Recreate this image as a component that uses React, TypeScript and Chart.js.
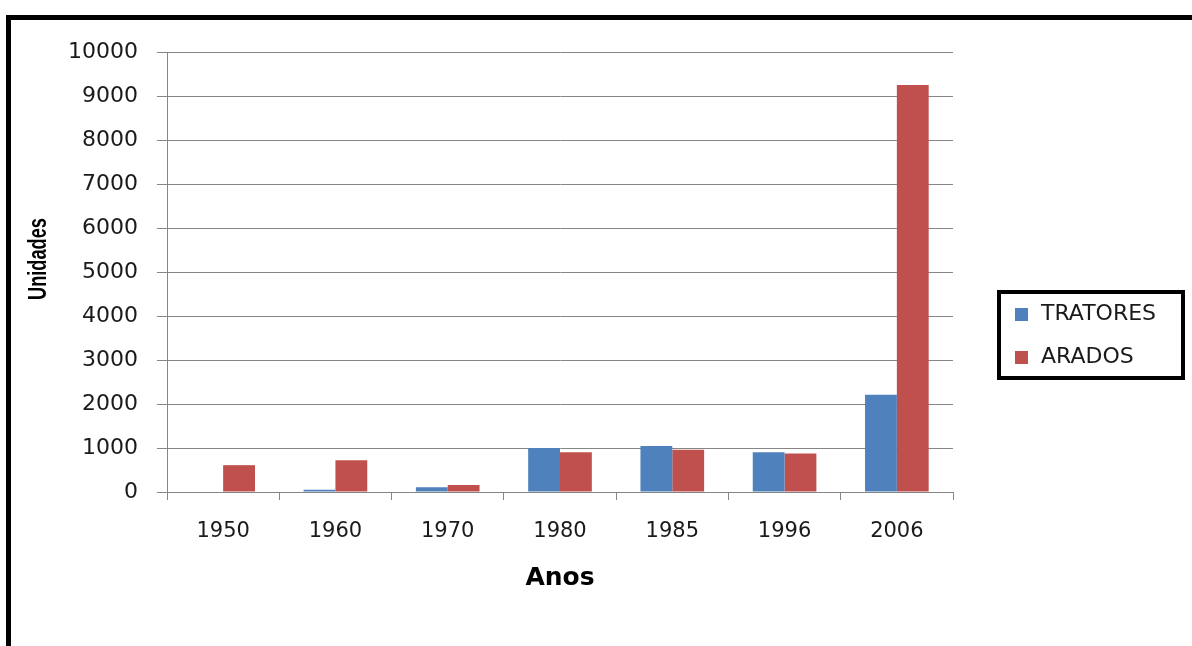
import React, { useEffect, useRef } from "react";
import { Chart, registerables } from "chart.js";

Chart.register(...registerables);

const categories = ["1950", "1960", "1970", "1980", "1985", "1996", "2006"];
const tratores = [0, 50, 110, 1000, 1045, 905, 2210];
const arados = [610, 720, 160, 905, 960, 875, 9250];
const seriesLabels = ["TRATORES", "ARADOS"];
const seriesColors = ["#4F81BD", "#C0504D"];
const yTitle = "Unidades";
const xTitle = "Anos";

const W = 1192;
const H = 646;

const boxLegend = {
  id: "boxLegend",
  afterDraw(chart: any) {
    const ctx = chart.ctx;
    ctx.save();
    ctx.fillStyle = "#ffffff";
    ctx.fillRect(999, 292, 184, 86);
    ctx.strokeStyle = "#000000";
    ctx.lineWidth = 4;
    ctx.strokeRect(999, 292, 184, 86);
    ctx.font = "22px 'DejaVu Sans', sans-serif";
    ctx.textBaseline = "middle";
    ctx.textAlign = "left";
    chart.data.datasets.forEach((ds: any, i: number) => {
      const cy = 314.5 + i * 43;
      ctx.fillStyle = ds.backgroundColor;
      ctx.fillRect(1015, cy - 6.5, 13, 13);
      ctx.fillStyle = "#1a1a1a";
      ctx.fillText(ds.label, 1041, cy);
    });
    ctx.restore();
  },
};

const yTitlePlugin = {
  id: "yTitlePlugin",
  afterDraw(chart: any) {
    const ctx = chart.ctx;
    ctx.save();
    ctx.font = "bold 25px 'Liberation Sans', Arial, sans-serif";
    ctx.fillStyle = "#000000";
    ctx.textAlign = "center";
    ctx.textBaseline = "middle";
    const w = ctx.measureText(yTitle).width;
    ctx.translate(39, 259);
    ctx.rotate(-Math.PI / 2);
    ctx.scale(82 / w, 1);
    ctx.fillText(yTitle, 0, 0);
    ctx.restore();
  },
};

export default function App() {
  const ref = useRef<HTMLCanvasElement | null>(null);

  useEffect(() => {
    if (!ref.current) return;
    const chart = new Chart(ref.current, {
      type: "bar",
      data: {
        labels: categories,
        datasets: [
          {
            label: seriesLabels[0],
            data: tratores,
            backgroundColor: seriesColors[0],
            borderWidth: 0,
            categoryPercentage: 0.567,
            barPercentage: 1,
          },
          {
            label: seriesLabels[1],
            data: arados,
            backgroundColor: seriesColors[1],
            borderWidth: 0,
            categoryPercentage: 0.567,
            barPercentage: 1,
          },
        ],
      },
      options: {
        responsive: false,
        animation: false,
        layout: { padding: { left: 0, right: 239, top: 52, bottom: 0 } },
        plugins: {
          legend: { display: false },
          tooltip: { enabled: false },
        },
        scales: {
          x: {
            offset: true,
            afterFit: (s: any) => {
              s.height = 154;
            },
            grid: {
              display: true,
              offset: true,
              drawOnChartArea: false,
              drawTicks: true,
              tickLength: 8,
              color: "#868686",
            },
            border: { display: true, color: "#868686" },
            ticks: {
              color: "#1a1a1a",
              padding: 19,
              font: { family: "'DejaVu Sans', sans-serif", size: 21 },
            },
            title: {
              display: true,
              text: xTitle,
              color: "#000000",
              padding: { top: 0, bottom: 53 },
              font: { family: "'DejaVu Sans', sans-serif", size: 25, weight: "bold" },
            },
          },
          y: {
            min: 0,
            max: 10000,
            afterFit: (s: any) => {
              s.width = 167;
            },
            grid: {
              color: "#868686",
              drawTicks: true,
              tickLength: 10,
            },
            border: { display: true, color: "#868686" },
            ticks: {
              stepSize: 1000,
              color: "#1a1a1a",
              padding: 19,
              callback: (v: any) => String(v),
              font: { family: "'DejaVu Sans', sans-serif", size: 22 },
            },
            title: { display: false },
          },
        },
      },
      plugins: [boxLegend, yTitlePlugin],
    });
    return () => chart.destroy();
  }, []);

  return (
    <div
      style={{
        position: "fixed",
        left: 0,
        top: 0,
        width: W,
        height: H,
        overflow: "hidden",
        background: "#ffffff",
      }}
    >
      <div
        style={{
          position: "absolute",
          left: 6,
          top: 15,
          width: 1300,
          height: 700,
          border: "5px solid #000000",
          boxSizing: "border-box",
        }}
      />
      <canvas
        ref={ref}
        width={W}
        height={H}
        style={{ position: "absolute", left: 0, top: 0, width: W, height: H, display: "block" }}
      />
    </div>
  );
}
